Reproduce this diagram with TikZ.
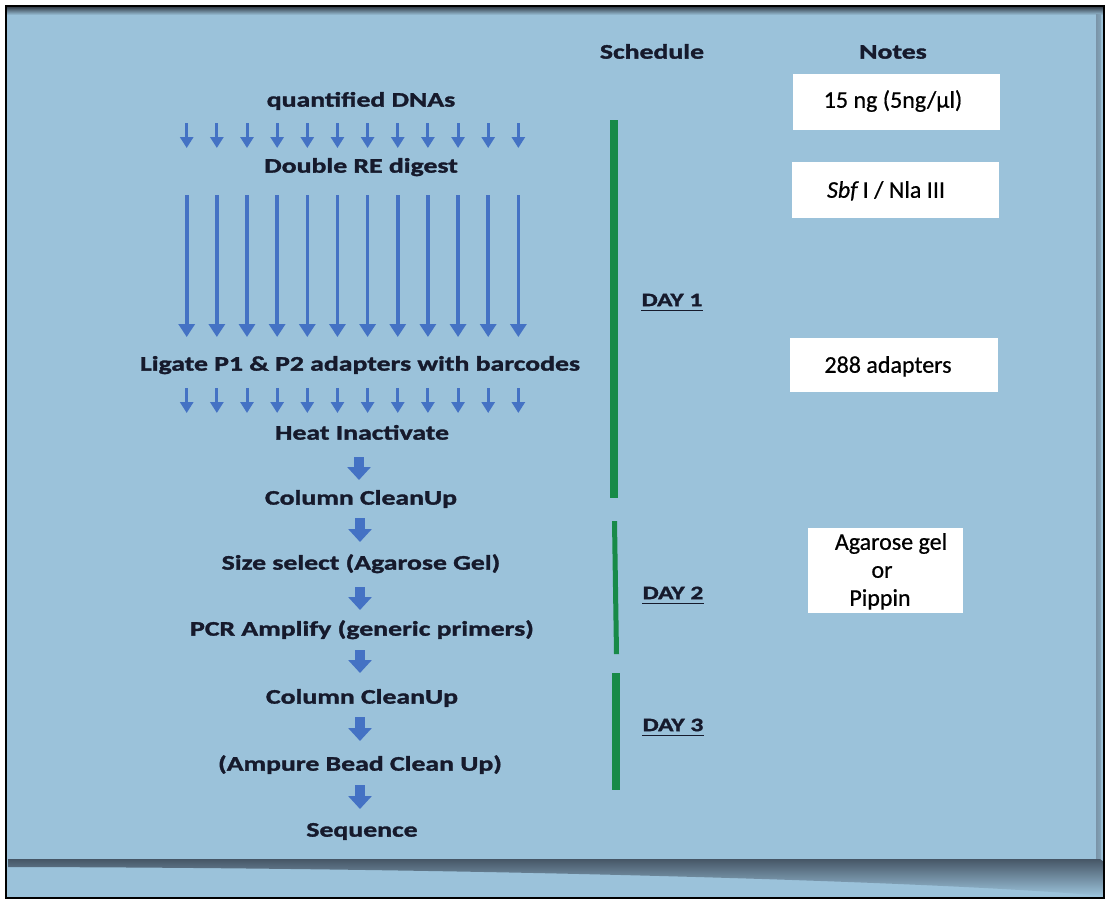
\documentclass[tikz,border=0pt]{standalone}
\usepackage{fontspec}
\setmainfont{Carlito}
\newfontfamily\wideb{Carlito}[FakeStretch=1.34, FakeBold=1.6]
\newfontfamily\notefont{Carlito}[FakeBold=0.6]
\usetikzlibrary{arrows.meta}
\definecolor{bgblue}{RGB}{155,194,218}
\definecolor{arrblue}{RGB}{68,114,196}
\definecolor{daygreen}{RGB}{24,138,72}
\definecolor{txt}{RGB}{22,26,44}
\definecolor{shadowc}{RGB}{70,86,102}
\definecolor{edgec}{RGB}{122,148,168}
\begin{document}
\begin{tikzpicture}[x=1pt,y=-1pt,
  stepnode/.style={font=\wideb\bfseries\fontsize{20.7}{24}\selectfont, text=txt, inner sep=0pt, text height=13.3pt, text depth=0pt, anchor=center},
  headnode/.style={stepnode},
  daynode/.style={font=\wideb\bfseries\fontsize{19}{22}\selectfont, text=txt, inner sep=0pt, text height=12.3pt, text depth=0pt, anchor=center},
  notebox/.style={fill=white, draw=none, inner sep=0pt},
  notetext/.style={font=\notefont\fontsize{24}{28}\selectfont, text=black, inner sep=0pt, text height=15.5pt, text depth=0pt, anchor=center},
  smallarr/.style={draw=arrblue, line width=3pt, -{Triangle[width=13pt,length=11pt]}},
  longarr/.style={draw=arrblue, line width=3.6pt, -{Triangle[width=16pt,length=13pt]}},
  fatarr/.style={draw=arrblue, line width=10pt, -{Triangle[width=23pt,length=13pt]}},
  daybar/.style={fill=daygreen}
]
\useasboundingbox (0,0) rectangle (1106,900);
% background
\fill[white] (0,0) rectangle (1106,900);
\fill[bgblue] (6,6) rectangle (1104,898);
\shade[top color={rgb,255:red,55;green,66;blue,78}, bottom color=bgblue] (6,7) rectangle (1104,15);
\shade[left color=edgec, right color=bgblue!85!black] (1096,14) rectangle (1101,861);
\shade[top color=shadowc, bottom color=bgblue]
  (8,859) -- (1100,859) -- (1104,862) -- (1104,896)
  .. controls (950,882) and (500,868) .. (8,867) -- cycle;
\draw[black, line width=2pt] (6,6) rectangle (1104,898);

% headers
\node[headnode] (sched) at (652,52) {Schedule};
\node[headnode] (notes) at (893,52) {Notes};

% steps
\node[stepnode] (q)   at (361,100) {quantified DNAs};
\node[stepnode] (dre) at (361,166) {Double RE digest};
\node[stepnode] (lig) at (360,364) {Ligate P1 \& P2 adapters with barcodes};
\node[stepnode] (heat) at (362,433) {Heat Inactivate};
\node[stepnode] (col1) at (361,498) {Column CleanUp};
\node[stepnode] (size) at (361,563) {Size select (Agarose Gel)};
\node[stepnode] (pcr) at (362,629) {PCR Amplify (generic primers)};
\node[stepnode] (col2) at (362,697) {Column CleanUp};
\node[stepnode] (amp) at (360,764) {(Ampure Bead Clean Up)};
\node[stepnode] (seq) at (362,830) {Sequence};

% multiple arrows
\foreach \i in {0,...,11}{
  \coordinate (sa\i) at ({186.7+30.15*\i},123);
  \coordinate (sb\i) at ({186.7+30.15*\i},148);
  \draw[smallarr] (sa\i) -- (sb\i);
  \coordinate (la\i) at ({186.7+30.15*\i},195);
  \coordinate (lb\i) at ({186.7+30.15*\i},337);
  \draw[longarr] (la\i) -- (lb\i);
  \coordinate (ta\i) at ({186.7+30.15*\i},388);
  \coordinate (tb\i) at ({186.7+30.15*\i},413);
  \draw[smallarr] (ta\i) -- (tb\i);
}

% single fat arrows
\coordinate (f1a) at (359,457); \coordinate (f1b) at (359,480);
\coordinate (f2a) at (360,518); \coordinate (f2b) at (360,542);
\coordinate (f3a) at (360,587); \coordinate (f3b) at (360,610);
\coordinate (f4a) at (360,650); \coordinate (f4b) at (360,673);
\coordinate (f5a) at (360,717); \coordinate (f5b) at (360,741);
\coordinate (f6a) at (360,785); \coordinate (f6b) at (360,809);
\foreach \k in {1,...,6}{ \draw[fatarr] (f\k a) -- (f\k b); }

% schedule bars
\fill[daybar] (610,120) rectangle (618,498);
\fill[daybar] (612,521) -- (617,521) -- (619,654) -- (614,654) -- cycle;
\fill[daybar] (612,673) rectangle (620,790);

\node[daynode] (d1) at (672,300) {DAY 1};
\node[daynode] (d2) at (673,593) {DAY 2};
\node[daynode] (d3) at (673,725) {DAY 3};
\foreach \d in {d1,d2,d3}{
  \draw[txt, line width=1.6pt] ([yshift=-4pt]\d.south west) -- ([yshift=-4pt]\d.south east);
}

% notes
\node[notebox, minimum width=207pt, minimum height=56pt] (n1) at (896.5,102) {};
\node[notetext] (n1t) at (893,100) {15 ng (5ng/µl)};
\node[notebox, minimum width=207pt, minimum height=56pt] (n2) at (895.5,190) {};
\node[notetext] (n2t) at (886,190) {\textit{Sbf}\,I / Nla III};
\node[notebox, minimum width=208pt, minimum height=54pt] (n3) at (894,365) {};
\node[notetext] (n3t) at (888,365) {288 adapters};
\node[notebox, minimum width=155pt, minimum height=85pt] (n4) at (885.5,570.5) {};
\node[notetext] (n4a) at (891,542) {Agarose gel};
\node[notetext] (n4b) at (882,570) {or};
\node[notetext] (n4c) at (880,598) {Pippin};
\end{tikzpicture}
\end{document}
